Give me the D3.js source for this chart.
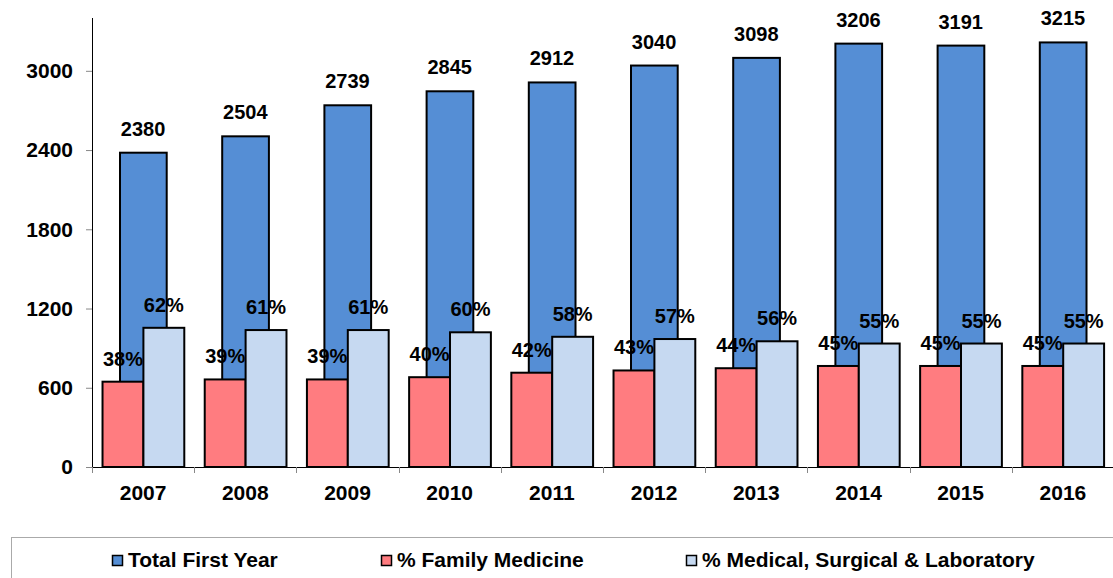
<!DOCTYPE html>
<html>
<head>
<meta charset="utf-8">
<script src="https://cdn.jsdelivr.net/npm/d3@7"></script>
<style>
    body { margin: 0; background: #fff; }
    text { font-family: Arial, "Liberation Sans", sans-serif; font-weight: bold; fill: #000; }
</style>
</head>
<body>
<div id="chart"></div>
<script>
// data
var years = ["2007", "2008", "2009", "2010", "2011", "2012", "2013", "2014", "2015", "2016"];
var totalFirstYear = [2380, 2504, 2739, 2845, 2912, 3040, 3098, 3206, 3191, 3215];
var familyMedicine = [38, 39, 39, 40, 42, 43, 44, 45, 45, 45];
var medicalSurgical = [62, 61, 61, 60, 58, 57, 56, 55, 55, 55];
var yTicks = [0, 600, 1200, 1800, 2400, 3000];
var seriesNames = ["Total First Year", "% Family Medicine", "% Medical, Surgical & Laboratory"];
var seriesColors = ["#558ed5", "#ff7c80", "#c6d9f1"];

class firstYearChart {
    constructor(_div) {
        this.div = _div;

        this.margin = {
            top: 18,
            right: 0,
            bottom: 111,
            left: 92
        };

        this.width = 1113 - this.margin.left;
        this.height = 578 - this.margin.top - this.margin.bottom;

        this.graphicArea = d3.select('#' + _div)
            .append("svg")
            .attr("width", 1113)
            .attr("height", 578);

        this.svg = this.graphicArea
            .append("g")
            .attr("transform", "translate(" + this.margin.left + "," + this.margin.top + ")");

        // scales: left axis for the totals, hidden secondary one (0-200%) for the shares
        this.xScale = d3.scaleBand()
            .range([0, 1022])
            .padding(0);

        this.yScale = d3.scaleLinear()
            .domain([0, 3400])
            .range([this.height, 0]);

        this.y2Scale = d3.scaleLinear()
            .domain([0, 200])
            .range([this.height, 0]);

        this.xAxis = d3.axisBottom(this.xScale).tickSize(0).tickFormat("");
        this.yAxis = d3.axisLeft(this.yScale)
            .tickValues(yTicks)
            .tickFormat(d3.format("d"))
            .tickSize(6)
            .tickPadding(13);
    }

    draw() {
        var oThis = this;
        var data = years.map(function (y, i) {
            return { year: y, total: totalFirstYear[i], fam: familyMedicine[i], med: medicalSurgical[i] };
        });

        this.xScale.domain(years);
        var bw = this.xScale.bandwidth();

        // y axis
        var yG = this.svg.append("g")
            .attr("class", "y_axis")
            .call(this.yAxis);
        yG.select(".domain").attr("stroke", "#000").attr("d", "M0.5,0V" + this.height);
        yG.selectAll(".tick line").attr("stroke", "#888");
        yG.selectAll(".tick text").style("font-size", "21px");

        // x axis
        var xG = this.svg.append("g")
            .attr("class", "x_axis")
            .attr("transform", "translate(0," + this.height + ")")
            .call(this.xAxis);
        xG.select(".domain").attr("stroke", "#000").attr("d", "M0,0.5H" + (this.width + 5));

        // tick marks at band boundaries
        xG.selectAll(".sep")
            .data(years)
            .enter().append("line")
            .attr("class", "sep")
            .attr("x1", function (d) { return Math.round(oThis.xScale(d)) + 0.5; })
            .attr("x2", function (d) { return Math.round(oThis.xScale(d)) + 0.5; })
            .attr("y1", 0)
            .attr("y2", 6)
            .attr("stroke", "#888");

        xG.selectAll(".year")
            .data(years)
            .enter().append("text")
            .attr("class", "year")
            .attr("x", function (d) { return oThis.xScale(d) + bw / 2; })
            .attr("y", 33)
            .style("text-anchor", "middle")
            .style("font-size", "21px")
            .text(function (d) { return d; });

        // total bars
        this.svg.selectAll(".bar-total")
            .data(data)
            .enter().append("rect")
            .attr("class", "bar-total")
            .attr("x", function (d) { return oThis.xScale(d.year) + bw * 0.274; })
            .attr("y", function (d) { return oThis.yScale(d.total); })
            .attr("width", bw * 0.457)
            .attr("height", function (d) { return oThis.height - oThis.yScale(d.total); })
            .attr("fill", seriesColors[0])
            .attr("stroke", "#000")
            .attr("stroke-width", 2);

        // family medicine bars
        this.svg.selectAll(".bar-fam")
            .data(data)
            .enter().append("rect")
            .attr("class", "bar-fam")
            .attr("x", function (d) { return oThis.xScale(d.year) + bw * 0.103; })
            .attr("y", function (d) { return oThis.y2Scale(d.fam); })
            .attr("width", bw * 0.4)
            .attr("height", function (d) { return oThis.height - oThis.y2Scale(d.fam); })
            .attr("fill", seriesColors[1])
            .attr("stroke", "#000")
            .attr("stroke-width", 2);

        // medical, surgical & lab bars
        this.svg.selectAll(".bar-med")
            .data(data)
            .enter().append("rect")
            .attr("class", "bar-med")
            .attr("x", function (d) { return oThis.xScale(d.year) + bw * 0.503; })
            .attr("y", function (d) { return oThis.y2Scale(d.med); })
            .attr("width", bw * 0.4)
            .attr("height", function (d) { return oThis.height - oThis.y2Scale(d.med); })
            .attr("fill", seriesColors[2])
            .attr("stroke", "#000")
            .attr("stroke-width", 2);

        // value labels
        this.svg.selectAll(".lbl-total")
            .data(data)
            .enter().append("text")
            .attr("class", "lbl-total")
            .attr("x", function (d) { return oThis.xScale(d.year) + bw * 0.5; })
            .attr("y", function (d) { return oThis.yScale(d.total) - 17; })
            .style("text-anchor", "middle")
            .style("font-size", "20px")
            .text(function (d) { return d.total; });

        this.svg.selectAll(".lbl-fam")
            .data(data)
            .enter().append("text")
            .attr("class", "lbl-fam")
            .attr("x", function (d) { return oThis.xScale(d.year) + bw * 0.303; })
            .attr("y", function (d) { return oThis.y2Scale(d.fam) - 16; })
            .style("text-anchor", "middle")
            .style("font-size", "20px")
            .text(function (d) { return d.fam + "%"; });

        this.svg.selectAll(".lbl-med")
            .data(data)
            .enter().append("text")
            .attr("class", "lbl-med")
            .attr("x", function (d) { return oThis.xScale(d.year) + bw * 0.703; })
            .attr("y", function (d) { return oThis.y2Scale(d.med) - 16; })
            .style("text-anchor", "middle")
            .style("font-size", "20px")
            .text(function (d) { return d.med + "%"; });

        // legend box
        var legend = this.graphicArea.append("g").attr("class", "legend");
        legend.append("rect")
            .attr("x", 11.5)
            .attr("y", 537.5)
            .attr("width", 1200)
            .attr("height", 100)
            .attr("fill", "none")
            .attr("stroke", "#aaa");

        var legendX = [112, 381, 686];
        var items = legend.selectAll(".item")
            .data(seriesNames)
            .enter().append("g")
            .attr("class", "item")
            .attr("transform", function (d, i) { return "translate(" + legendX[i] + ",0)"; });

        items.append("rect")
            .attr("x", 0.5)
            .attr("y", 555.5)
            .attr("width", 10)
            .attr("height", 10)
            .attr("fill", function (d, i) { return seriesColors[i]; })
            .attr("stroke", "#000")
            .attr("stroke-width", 1.5);

        items.append("text")
            .attr("x", 16)
            .attr("y", 566.5)
            .style("font-size", "21px")
            .text(function (d) { return d; });
    }
}

var chart = new firstYearChart("chart");
chart.draw();
</script>
</body>
</html>
